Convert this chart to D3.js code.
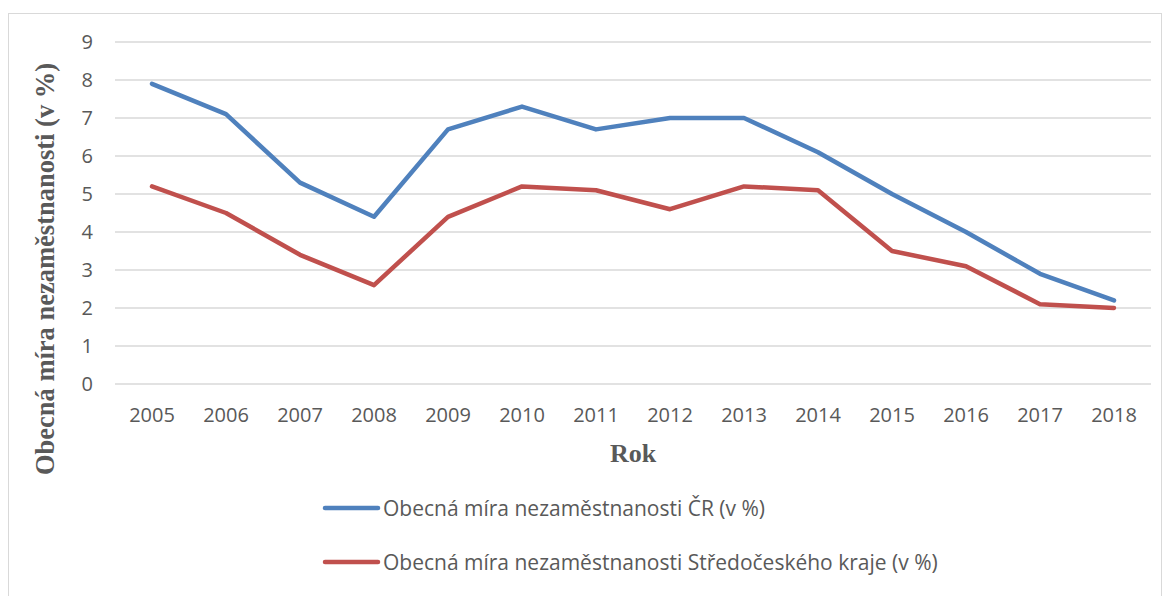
<!DOCTYPE html>
<html>
<head>
<meta charset="utf-8">
<script src="https://cdn.jsdelivr.net/npm/d3@7"></script>
<style>
  body { margin: 0; background: #fff; }
  svg { display: block; }
</style>
</head>
<body>
<svg width="1170" height="596"></svg>
<script>
var years = ["2005","2006","2007","2008","2009","2010","2011","2012","2013","2014","2015","2016","2017","2018"];
var czValues = [7.9, 7.1, 5.3, 4.4, 6.7, 7.3, 6.7, 7.0, 7.0, 6.1, 5.0, 4.0, 2.9, 2.2];
var stcValues = [5.2, 4.5, 3.4, 2.6, 4.4, 5.2, 5.1, 4.6, 5.2, 5.1, 3.5, 3.1, 2.1, 2.0];
var yTicks = [0, 1, 2, 3, 4, 5, 6, 7, 8, 9];
var seriesNames = ["Obecná míra nezaměstnanosti ČR (v %)", "Obecná míra nezaměstnanosti Středočeského kraje (v %)"];
var colors = ["#4f81bd", "#c0504d"];

var svg = d3.select("svg");
var tickFont = "'Open Sans', sans-serif";
var titleFont = "'Liberation Serif', 'Times New Roman', serif";

// outer frame
svg.append("rect")
  .attr("x", 8.5).attr("y", 13.5)
  .attr("width", 1153).attr("height", 600)
  .attr("fill", "none")
  .attr("stroke", "#d9d9d9");

var x = d3.scaleBand().domain(years).range([115, 1151]);
var y = d3.scaleLinear().domain([0, 9]).range([384, 42]);

// gridlines
svg.append("g")
  .selectAll("line")
  .data(yTicks)
  .enter()
  .append("line")
  .attr("x1", 115).attr("x2", 1151)
  .attr("y1", function(d) { return y(d); })
  .attr("y2", function(d) { return y(d); })
  .attr("stroke", "#d9d9d9")
  .attr("stroke-width", 1.3);

// y tick labels
svg.append("g")
  .selectAll("text")
  .data(yTicks)
  .enter()
  .append("text")
  .attr("x", 93)
  .attr("y", function(d) { return y(d); })
  .attr("dy", "0.36em")
  .attr("text-anchor", "end")
  .attr("font-family", tickFont)
  .attr("font-size", 20)
  .attr("fill", "#595959")
  .text(function(d) { return d; });

// x tick labels
svg.append("g")
  .selectAll("text")
  .data(years)
  .enter()
  .append("text")
  .attr("x", function(d) { return x(d) + x.bandwidth() / 2; })
  .attr("y", 415)
  .attr("dy", "0.36em")
  .attr("text-anchor", "middle")
  .attr("font-family", tickFont)
  .attr("font-size", 20)
  .attr("fill", "#595959")
  .text(function(d) { return d; });

// axis titles
svg.append("text")
  .attr("x", 633).attr("y", 453)
  .attr("dy", "0.35em")
  .attr("text-anchor", "middle")
  .attr("font-family", titleFont)
  .attr("font-weight", "bold")
  .attr("font-size", 26)
  .attr("fill", "#595959")
  .text("Rok");

svg.append("text")
  .attr("transform", "translate(45,269) rotate(-90)")
  .attr("dy", "0.35em")
  .attr("text-anchor", "middle")
  .attr("font-family", titleFont)
  .attr("font-weight", "bold")
  .attr("font-size", 26.5)
  .attr("fill", "#595959")
  .text("Obecná míra nezaměstnanosti (v %)");

// lines
var line = d3.line()
  .x(function(d, i) { return x(years[i]) + x.bandwidth() / 2; })
  .y(function(d) { return y(d); });

[czValues, stcValues].forEach(function(vals, i) {
  svg.append("path")
    .datum(vals)
    .attr("d", line)
    .attr("fill", "none")
    .attr("stroke", colors[i])
    .attr("stroke-width", 4.5)
    .attr("stroke-linecap", "round")
    .attr("stroke-linejoin", "round");
});

// legend
var legend = svg.append("g")
  .selectAll("g")
  .data(seriesNames)
  .enter()
  .append("g")
  .attr("transform", function(d, i) { return "translate(325," + (508 + i * 54) + ")"; });

legend.append("line")
  .attr("x1", 0).attr("x2", 53)
  .attr("stroke", function(d, i) { return colors[i]; })
  .attr("stroke-width", 4.5)
  .attr("stroke-linecap", "round");

legend.append("text")
  .attr("x", 58)
  .attr("dy", "0.36em")
  .attr("font-family", tickFont)
  .attr("font-size", 21)
  .attr("fill", "#595959")
  .text(function(d) { return d; });
</script>
</body>
</html>
